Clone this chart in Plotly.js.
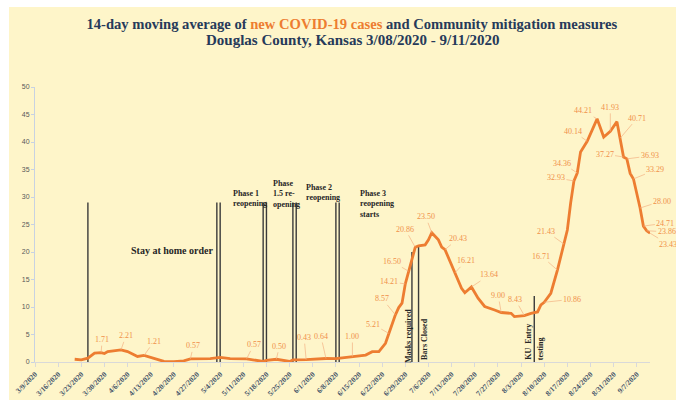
<!DOCTYPE html>
<html><head><meta charset="utf-8">
<script src="https://cdn.plot.ly/plotly-3.0.1.min.js"></script>
<style>
html,body{margin:0;padding:0;background:#fff;width:676px;height:400px;overflow:hidden;}
#chart{position:absolute;left:9px;top:7px;width:667px;height:393px;}
</style></head><body><div id="chart"></div>
<script>
// 14-day moving average of new cases
const dates = ['2020-03-21','2020-03-23','2020-03-25','2020-03-27','2020-03-29','2020-03-30','2020-03-31','2020-04-04','2020-04-06','2020-04-09','2020-04-11','2020-04-14','2020-04-17','2020-04-20','2020-04-23','2020-04-25','2020-05-01','2020-05-04','2020-05-07','2020-05-12','2020-05-17','2020-05-18','2020-05-21','2020-05-25','2020-05-26','2020-05-30','2020-06-05','2020-06-08','2020-06-13','2020-06-17','2020-06-19','2020-06-21','2020-06-23','2020-06-24','2020-06-26','2020-06-27','2020-06-28','2020-06-29','2020-06-30','2020-07-01','2020-07-02','2020-07-03','2020-07-05','2020-07-06','2020-07-07','2020-07-09','2020-07-10','2020-07-11','2020-07-14','2020-07-16','2020-07-17','2020-07-19','2020-07-21','2020-07-23','2020-07-26','2020-07-28','2020-07-31','2020-08-01','2020-08-04','2020-08-06','2020-08-08','2020-08-09','2020-08-10','2020-08-12','2020-08-14','2020-08-16','2020-08-17','2020-08-18','2020-08-19','2020-08-20','2020-08-21','2020-08-23','2020-08-26','2020-08-28','2020-08-30','2020-09-01','2020-09-02','2020-09-03','2020-09-04','2020-09-05','2020-09-06','2020-09-07','2020-09-08','2020-09-09','2020-09-10','2020-09-11'];
const cases = [0.5,0.4,0.7,1.6,1.71,1.55,1.9,2.21,1.9,1.0,1.21,0.7,0.1,0.05,0.2,0.57,0.6,0.85,0.6,0.57,0.1,0.3,0.50,0.1,0.37,0.43,0.64,0.6,1.00,1.27,1.87,1.9,3.4,5.21,8.57,9.9,10.7,14.21,16.50,19.0,20.86,21.1,21.3,22.2,23.50,22.2,20.9,20.43,16.21,13.4,12.6,13.64,11.6,10.1,9.45,9.00,8.85,8.25,8.43,8.85,9.1,10.4,10.86,12.5,16.71,21.43,24.0,28.9,32.93,34.36,38.2,40.14,44.21,40.9,41.93,43.7,40.71,37.27,36.93,34.3,33.29,30.7,28.00,24.71,23.86,23.43];

// Labeled points
const labelDates = ['2020-03-29','2020-04-04','2020-04-11','2020-04-25','2020-05-12','2020-05-21','2020-05-30','2020-06-05','2020-06-13','2020-06-24','2020-06-26','2020-06-29','2020-06-30','2020-07-02','2020-07-07','2020-07-11','2020-07-14','2020-07-19','2020-07-28','2020-08-04','2020-08-10','2020-08-14','2020-08-16','2020-08-19','2020-08-20','2020-08-23','2020-08-26','2020-08-30','2020-09-02','2020-09-03','2020-09-04','2020-09-06','2020-09-08','2020-09-09','2020-09-10','2020-09-11'];
const labelValues = [1.71,2.21,1.21,0.57,0.57,0.50,0.43,0.64,1.00,5.21,8.57,14.21,16.50,20.86,23.50,20.43,16.21,13.64,9.00,8.43,10.86,16.71,21.43,32.93,34.36,40.14,44.21,41.93,40.71,37.27,36.93,33.29,28.00,24.71,23.86,23.43];
// label offsets (px) from point to label centre
const labelOffsets = [[1,-13],[5,-14],[10,-14],[3,-13],[7,-14],[3,-13],[-2,-22],[-5,-22],[0,-20],[-16,-9],[-13,-16],[-16,-2],[-17,-10],[-10,-18],[-6,-16],[13,-11],[11,-12],[18,-12],[-3,-17],[-9,-16],[28,-3],[-16,-14],[-18,-13],[-18,-3],[-15,-10],[-14,-10],[-14,-8],[0,-24],[17,-20],[-19,-3],[23,-3],[22,-9],[22,-7],[22,-3],[20,1],[18,11]];

// Mitigation measure marker lines
const measureDates = ['2020-03-25','2020-05-03','2020-05-04','2020-05-17','2020-05-18','2020-05-26','2020-05-27','2020-06-08','2020-06-09','2020-07-01','2020-07-03','2020-08-07'];
const measureHeights = [29,29,29,29,29,29,29,29,29,20,21,12];

// Axis ticks
const tickDates = ['2020-03-09','2020-03-16','2020-03-23','2020-03-30','2020-04-06','2020-04-13','2020-04-20','2020-04-27','2020-05-04','2020-05-11','2020-05-18','2020-05-25','2020-06-01','2020-06-08','2020-06-15','2020-06-22','2020-06-29','2020-07-06','2020-07-13','2020-07-20','2020-07-27','2020-08-03','2020-08-10','2020-08-17','2020-08-24','2020-08-31','2020-09-07'];
const tickLabels = ['3/9/2020','3/16/2020','3/23/2020','3/30/2020','4/6/2020','4/13/2020','4/20/2020','4/27/2020','5/4/2020','5/11/2020','5/18/2020','5/25/2020','6/1/2020','6/8/2020','6/15/2020','6/22/2020','6/29/2020','7/6/2020','7/13/2020','7/20/2020','7/27/2020','8/3/2020','8/10/2020','8/17/2020','8/24/2020','8/31/2020','9/7/2020'];

// build measure line trace
const mx = [], my = [];
measureDates.forEach((d, i) => { mx.push(d, d, null); my.push(0, measureHeights[i], null); });

const traces = [
  {x: mx, y: my, mode: 'lines', line: {color: '#3a3a3a', width: 1.4}, hoverinfo: 'skip'},
  {x: dates, y: cases, mode: 'lines', line: {color: '#ED7D31', width: 2.8}}
];

// plot area pixel geometry in page coords: x 35..650, y 87..362
const PX0 = 35, PX1 = 650, PY0 = 87, PY1 = 362;
const px = v => (v - PX0) / (PX1 - PX0);
const py = v => (PY1 - v) / (PY1 - PY0);

const serif = 'Liberation Serif';
const annotations = [];
labelDates.forEach((d, i) => {
  annotations.push({
    x: d, y: labelValues[i], xref: 'x', yref: 'y',
    text: labelValues[i].toFixed(2), showarrow: true, arrowhead: 0,
    arrowwidth: 0.7, arrowcolor: '#F4B183', ax: labelOffsets[i][0], ay: labelOffsets[i][1],
    standoff: 0, startstandoff: 0,
    font: {family: serif, size: 8, color: '#F0904A'}
  });
});

const txt = (text, x, y, opts) => Object.assign({
  text, xref: 'paper', yref: 'paper', x: px(x), y: py(y), showarrow: false,
  xanchor: 'center', yanchor: 'middle',
  font: {family: serif, size: 8, color: '#262626', weight: 'bold'}
}, opts || {});

annotations.push(txt('Stay at home order', 172, 250, {font: {family: serif, size: 10, color: '#262626', weight: 'bold'}}));
annotations.push(txt('Phase 1<br>reopening', 231, 198, {xanchor: 'left', align: 'left'}));
annotations.push(txt('Phase<br>1.5 re-<br>opening', 270.5, 194, {xanchor: 'left', align: 'left'}));
annotations.push(txt('Phase 2<br>reopening', 304, 192, {xanchor: 'left', align: 'left'}));
annotations.push(txt('Phase 3<br>reopening<br>starts', 358, 204, {xanchor: 'left', align: 'left'}));
annotations.push(txt('Masks required', 408, 336, {textangle: -90}));
annotations.push(txt('Bars Closed', 424, 339, {textangle: -90}));
annotations.push(txt('KU  Entry', 528.3, 341.5, {textangle: -90}));
annotations.push(txt('testing', 540.7, 348.5, {textangle: -90}));
// second title line
annotations.push(txt('Douglas County, Kansas 3/08/2020 - 9/11/2020', 352, 39.5, {font: {family: serif, size: 15, color: '#263A5A', weight: 'bold'}}));

const layout = {
  width: 667, height: 393,
  margin: {l: 26, r: 26, t: 80, b: 38},
  paper_bgcolor: '#FEF5C9', plot_bgcolor: '#FEF5C9',
  showlegend: false,
  title: {
    text: '14-day moving average of <span style="color:#ED7D31">new COVID-19 cases</span> and Community mitigation measures',
    font: {family: serif, size: 14.6, color: '#263A5A', weight: 'bold'},
    xref: 'container', yref: 'container', x: 0.514, xanchor: 'center', y: 1 - 17 / 393, yanchor: 'middle'
  },
  xaxis: {
    type: 'date', range: ['2020-03-09', '2020-09-11'], tickmode: 'array', tickvals: tickDates, ticktext: tickLabels,
    tickangle: -45, tickfont: {family: serif, size: 7.5, color: '#44546A', weight: 'bold'},
    showgrid: false, zeroline: false, showline: true, linecolor: '#D9D9D9', linewidth: 1,
    ticks: 'outside', ticklen: 4, tickcolor: '#D9D9D9', automargin: false, fixedrange: true
  },
  yaxis: {
    range: [0, 50], tick0: 0, dtick: 5, showgrid: false, zeroline: false, showline: true,
    linecolor: '#C8D2E2', linewidth: 1, ticks: 'outside', ticklen: 3, tickcolor: '#C8D2E2',
    tickfont: {family: 'Liberation Sans', size: 7, color: '#595959'}, automargin: false, fixedrange: true
  },
  annotations
};

Plotly.newPlot('chart', traces, layout, {displayModeBar: false, staticPlot: true});
</script></body></html>
